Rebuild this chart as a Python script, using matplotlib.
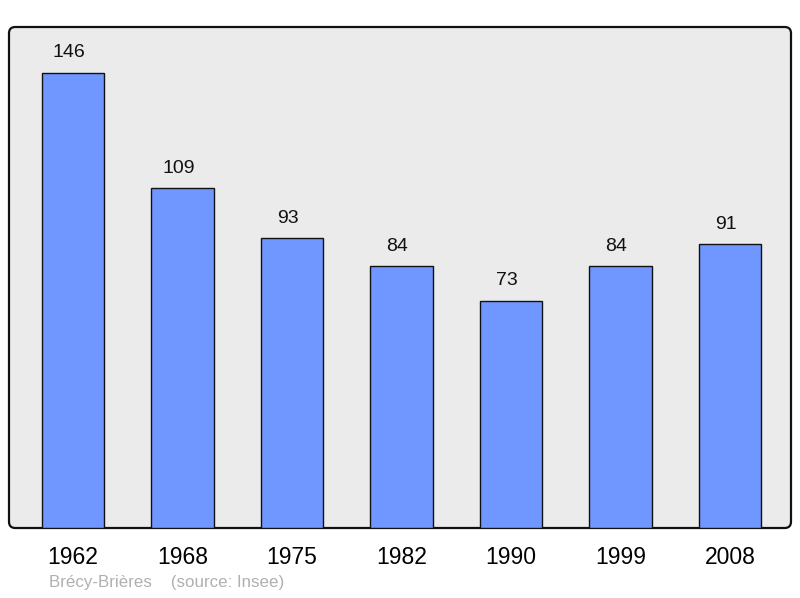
import matplotlib
matplotlib.use("Agg")
import matplotlib.pyplot as plt
from matplotlib.patches import FancyBboxPatch

years = ["1962", "1968", "1975", "1982", "1990", "1999", "2008"]
population = [146, 109, 93, 84, 73, 84, 91]
footer_place = "Brécy-Brières"
footer_source = "(source: Insee)"

plt.rcParams['font.family'] = ['Liberation Sans', 'DejaVu Sans']

W, H = 800, 598
fig = plt.figure(figsize=(W / 100, H / 100), dpi=100)
left, right, top, bottom = 9, 791, 27, 528
ax = fig.add_axes([left / W, 1 - bottom / H, (right - left) / W, (bottom - top) / H])
ax.patch.set_visible(False)
for s in ax.spines.values():
    s.set_visible(False)

aw, ah = right - left, bottom - top
frame = FancyBboxPatch((0, 0), 1, 1, boxstyle="round,pad=0,rounding_size=0.008",
                       mutation_aspect=aw / ah, transform=ax.transAxes,
                       facecolor="#ebebeb", edgecolor="#111111", linewidth=1.6,
                       zorder=0, clip_on=False)
ax.add_patch(frame)

x = list(range(len(years)))
bars = ax.bar(x, population, width=0.57, color="#7097ff", edgecolor="#111111",
              linewidth=1.0, zorder=2)
for xi, v in zip(x, population):
    ax.annotate(str(v), (xi, v), xytext=(-3, 14.5), textcoords="offset points",
                ha="center", va="center", fontsize=14, color="#111111")

ax.set_xlim(-0.584, 6.557)
ax.set_ylim(0, 160.8)
ax.set_yticks([])
ax.set_xticks(x)
ax.set_xticklabels(years, fontsize=16.5)
ax.tick_params(axis="x", length=0, pad=13)

fig.text(49 / W, 1 - 583 / H, footer_place + "    " + footer_source,
         fontsize=12.2, color="#b0b0b0", ha="left", va="center")

fig.savefig("out.png", dpi=100)
